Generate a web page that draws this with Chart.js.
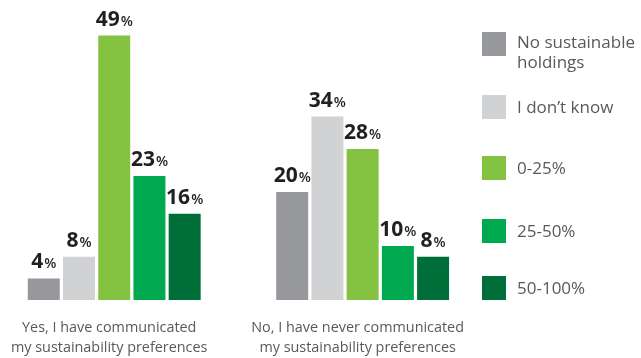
<!DOCTYPE html>
<html>
<head>
<meta charset="utf-8">
<script src="https://cdn.jsdelivr.net/npm/chart.js@4/dist/chart.umd.min.js"></script>
<style>
  html, body { margin: 0; padding: 0; background: #ffffff; }
  body { width: 641px; height: 358px; position: relative; overflow: hidden; font-family: "Open Sans", sans-serif; }
  #wrap { position: absolute; left: -10px; top: 0; width: 497px; height: 377px; }
  #legend { position: absolute; left: 482px; top: 0; width: 159px; height: 358px; }
  .item { position: absolute; left: 0; display: flex; align-items: center; }
  .sw { width: 24px; height: 24px; flex: none; }
  .tx { margin-left: 11px; font-size: 17px; line-height: 20px; color: #595959; white-space: nowrap; }
</style>
</head>
<body>
<div id="wrap"><canvas id="c"></canvas></div>
<div id="legend"></div>
<script>
// Respondent groups (x axis), each label split into two lines
const categories = [
  ["Yes, I have communicated", "my sustainability preferences"],
  ["No, I have never communicated", "my sustainability preferences"]
];

// Share of sustainable holdings, % of respondents in each group
const seriesNames = [["No sustainable", "holdings"], ["I don\u2019t know"], ["0-25%"], ["25-50%"], ["50-100%"]];
const noSustainable = [4, 20];
const dontKnow = [8, 34];
const share0to25 = [49, 28];
const share25to50 = [23, 10];
const share50to100 = [16, 8];

const seriesValues = [noSustainable, dontKnow, share0to25, share25to50, share50to100];
const seriesColors = ["#97989b", "#d1d2d4", "#84c341", "#00a84f", "#006e38"];

// Value labels above each bar: bold number with a smaller percent sign
const valueLabels = {
  id: "valueLabels",
  afterDatasetsDraw(chart) {
    const ctx = chart.ctx;
    ctx.save();
    ctx.fillStyle = "#231f20";
    ctx.textBaseline = "alphabetic";
    ctx.textAlign = "left";
    chart.data.datasets.forEach((ds, i) => {
      chart.getDatasetMeta(i).data.forEach((bar, j) => {
        const num = String(ds.data[j]);
        ctx.font = "700 21px 'Open Sans'";
        const wn = ctx.measureText(num).width;
        ctx.font = "600 14px 'Open Sans'";
        const wp = ctx.measureText("%").width;
        const x0 = bar.x - (wn + wp + 1) / 2;
        const y = bar.y - 10;
        ctx.font = "700 21px 'Open Sans'";
        ctx.fillText(num, x0, y);
        ctx.font = "600 14px 'Open Sans'";
        ctx.fillText("%", x0 + wn + 1, y);
      });
    });
    ctx.restore();
  }
};

new Chart(document.getElementById("c"), {
  type: "bar",
  data: {
    labels: categories,
    datasets: seriesValues.map((vals, i) => ({
      label: seriesNames[i].join(" "),
      data: vals,
      backgroundColor: seriesColors[i],
      borderWidth: 0,
      categoryPercentage: 0.709,
      barPercentage: 0.908
    }))
  },
  options: {
    responsive: true,
    maintainAspectRatio: false,
    animation: false,
    layout: { padding: { left: 0, right: 0, top: 0, bottom: 1 } },
    plugins: { legend: { display: false }, tooltip: { enabled: false } },
    scales: {
      x: {
        grid: { display: false, drawTicks: false },
        border: { display: false },
        ticks: {
          padding: 18,
          labelOffset: -5,
          color: "#595959",
          font: { family: "Open Sans", size: 14.4, lineHeight: 1.39 },
          maxRotation: 0,
          autoSkip: false
        }
      },
      y: {
        display: false,
        min: 0,
        max: 55.6
      }
    }
  },
  plugins: [valueLabels]
});

// Legend on the right, built from the same series names and colours
const legendTops = [38, 95, 156, 219, 276];
const legend = document.getElementById("legend");
seriesNames.forEach((lines, i) => {
  const item = document.createElement("div");
  item.className = "item";
  item.style.top = (legendTops[i] + 12 - lines.length * 10 + (lines.length > 1 ? 2 : 0)) + "px";
  item.style.height = (lines.length * 20) + "px";
  const sw = document.createElement("div");
  sw.className = "sw";
  sw.style.background = seriesColors[i];
  if (lines.length > 1) { sw.style.alignSelf = "flex-start"; }
  const tx = document.createElement("div");
  tx.className = "tx";
  tx.innerHTML = lines.map(s => s.replace(/&/g, "&amp;").replace(/</g, "&lt;")).join("<br>");
  item.appendChild(sw);
  item.appendChild(tx);
  legend.appendChild(item);
});
</script>
</body>
</html>
